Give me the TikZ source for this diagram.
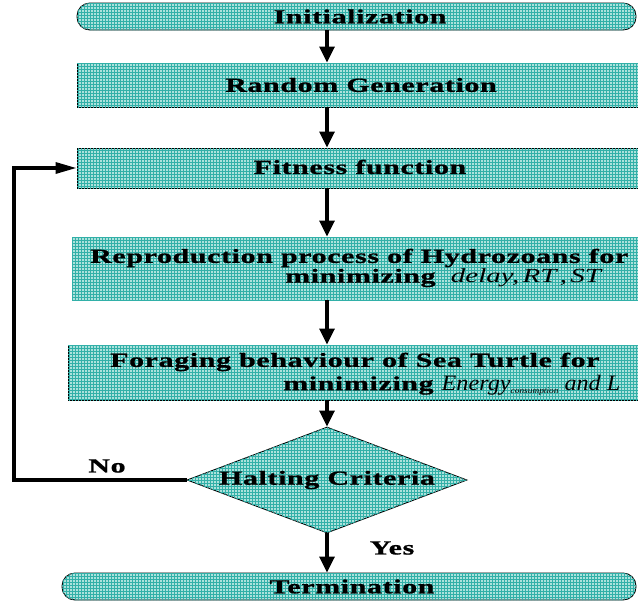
\documentclass[tikz,border=0pt]{standalone}
\usepackage{fontspec}
\setmainfont{Liberation Serif}
\newfontfamily\wb[FakeStretch=1.5,LetterSpace=3,FakeBold=1]{Liberation Serif}
\newfontfamily\wi[FakeStretch=1.45]{Liberation Serif}
\newfontfamily\wj[FakeStretch=1.1]{Liberation Serif}
\usetikzlibrary{shapes.geometric,arrows.meta,patterns}
\definecolor{cyanbg}{RGB}{172,226,220}
\definecolor{gridc}{RGB}{50,176,168}
\tikzset{
  fillgrid/.style={fill=cyanbg, postaction={pattern=grid, pattern color=gridc}},
  box/.style={draw=black, line width=0.9pt, fillgrid, rectangle, inner sep=0pt},
  terminal/.style={box, rounded corners=13pt},
  decision/.style={draw=black, line width=0.9pt, fillgrid, diamond, aspect=2.64, inner sep=0pt},
  lbl/.style={font=\wb\bfseries\fontsize{20}{23}\selectfont, inner sep=0pt},
  arr/.style={line width=3.2pt, -{Triangle[length=16pt,width=15pt]}},
  looparr/.style={line width=3.2pt, -{Triangle[length=21pt,width=11pt]}}
}
\begin{document}
\begin{tikzpicture}[x=1pt,y=-1pt]
\useasboundingbox (0,0) rectangle (638,603);
\clip (0,0) rectangle (638,603);
% shapes
\node[terminal, minimum width=559pt, minimum height=27pt] (init) at (356.5,16.5) {};
\node[box, minimum width=573pt, minimum height=44pt] (rand) at (363.5,85) {};
\node[box, minimum width=573pt, minimum height=40pt] (fit) at (363.5,168) {};
\node[box, minimum width=578pt, minimum height=63pt] (repr) at (361,268.5) {};
\node[box, minimum width=582pt, minimum height=55pt] (forag) at (359,372.5) {};
\node[decision, minimum width=280pt, minimum height=106pt] (dia) at (327,480) {};
\node[terminal, minimum width=574pt, minimum height=27pt] (term) at (349,586.5) {};
% texts
\node[lbl] (tinit) at (360,16.5) {Initialization};
\node[lbl] (trand) at (361,85) {Random Generation};
\node[lbl] (tfit) at (360,167) {Fitness function};
\node[lbl, anchor=west] (trepr1) at (90,258) {Reproduction process of Hydrozoans for};
\node[lbl, anchor=west] (trepr2) at (285,278) {minimizing \wi\mdseries\itshape\fontsize{20}{23}\selectfont\ delay,\,RT\,,\,ST};
\node[lbl, anchor=west] (tfor1) at (110,362) {Foraging behaviour of Sea Turtle for};
\node[lbl, anchor=west] (tfor2) at (283,385) {minimizing \wj\mdseries\itshape\fontsize{22}{23}\selectfont Energy\raisebox{-3pt}{\fontsize{8.5}{9}\selectfont consumption}\ and L};
\node[lbl] (tdia) at (327,480) {Halting Criteria};
\node[lbl] (tterm) at (352,586.5) {Termination};
\node[lbl] (tno) at (107,466) {No};
\node[lbl] (tyes) at (392,548) {Yes};
% connectors
\draw[arr] (init.south -| dia.north) -- (rand.north -| dia.north);
\draw[arr] (rand.south -| dia.north) -- (fit.north -| dia.north);
\draw[arr] (fit.south -| dia.north) -- (repr.north -| dia.north);
\draw[arr] (repr.south -| dia.north) -- (forag.north -| dia.north);
\draw[arr] (forag.south -| dia.north) -- (dia.north);
\draw[arr] (dia.south) -- (term.north -| dia.south);
\coordinate (c1) at (14,480);
\draw[looparr] (dia.west) -- (c1) -- (c1 |- fit.west) -- (fit.west);
\end{tikzpicture}
\end{document}
